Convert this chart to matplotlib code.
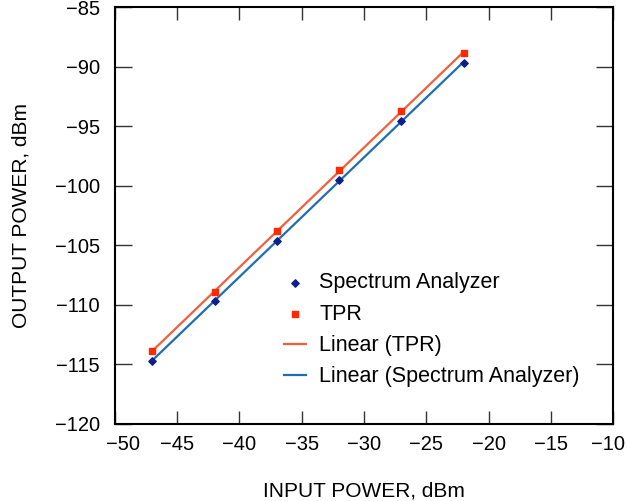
import matplotlib
matplotlib.use("Agg")
import matplotlib.pyplot as plt
import matplotlib.transforms as mtransforms
import numpy as np

plt.rcParams['font.family'] = ['Liberation Sans', 'DejaVu Sans']

input_power = [-47, -42, -37, -32, -27, -22]
spectrum_analyzer = [-114.7, -109.7, -104.6, -99.5, -94.6, -89.7]
tpr = [-113.9, -108.9, -103.8, -98.7, -93.7, -88.9]

x = np.array(input_power)

fig = plt.figure(figsize=(6.27, 5.01), dpi=100)
ax = fig.add_axes([0.1834, 0.1537, 0.7943, 0.8323])

ax.scatter(input_power, spectrum_analyzer, marker='D', s=14, color='#0d1f8c',
           label='Spectrum Analyzer', zorder=3)
ax.scatter(input_power, tpr, marker='s', s=22, color='#ff2a00',
           label='TPR', zorder=3)

fit_tpr = np.polyfit(x, tpr, 1)
fit_sa = np.polyfit(x, spectrum_analyzer, 1)
ax.plot(x, np.polyval(fit_tpr, x), color='#f0603c', lw=1.6, label='Linear (TPR)')
ax.plot(x, np.polyval(fit_sa, x), color='#1f6db5', lw=1.6,
        label='Linear (Spectrum Analyzer)')

ax.set_xlim(-50, -10)
ax.set_ylim(-120, -85)
ax.set_xticks(np.arange(-50, -9, 5))
ax.set_yticks(np.arange(-120, -84, 5))

ax.tick_params(axis='x', direction='in', length=9.5, width=1, top=True,
               labelsize=14.5, pad=8, colors='#333333', labelcolor='black')
ax.tick_params(axis='y', direction='in', length=12, width=1, right=True,
               labelsize=14.5, pad=11, colors='#333333', labelcolor='black')
for s in ax.spines.values():
    s.set_linewidth(1.5)

# end labels sit a bit inward, as in the original
xlabels = ax.get_xticklabels()
xlabels[0].set_transform(xlabels[0].get_transform() +
                         mtransforms.ScaledTranslation(8 / 100, 0, fig.dpi_scale_trans))
xlabels[-1].set_transform(xlabels[-1].get_transform() +
                          mtransforms.ScaledTranslation(-5 / 100, 0, fig.dpi_scale_trans))

ax.set_xlabel('INPUT POWER, dBm', fontsize=15, labelpad=19.5)
ax.set_ylabel('OUTPUT POWER, dBm', fontsize=15, labelpad=17.5)

ax.legend(loc='upper left', bbox_to_anchor=(0.3, 0.41), frameon=False,
          fontsize=15.5, handlelength=1.05, handletextpad=0.6, labelspacing=0.48,
          scatterpoints=1)

fig.savefig('out.png', dpi=100)
